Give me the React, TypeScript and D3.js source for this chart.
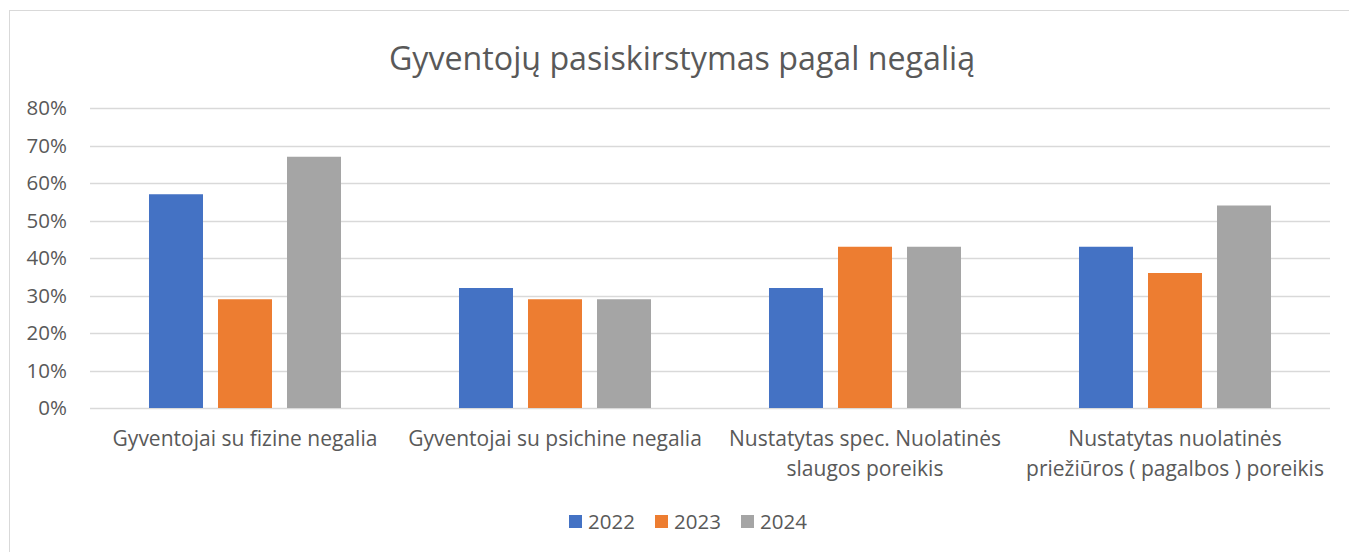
import React, { useEffect, useRef } from 'react';
import * as d3 from 'd3';

const categories = [
  ['Gyventojai su fizine negalia'],
  ['Gyventojai su psichine negalia'],
  ['Nustatytas spec. Nuolatinės', 'slaugos poreikis'],
  ['Nustatytas nuolatinės', 'priežiūros ( pagalbos ) poreikis'],
];
const years = ['2022', '2023', '2024'];
const values2022 = [57, 32, 32, 43];
const values2023 = [29, 29, 43, 36];
const values2024 = [67, 29, 43, 54];
const yTicks = [0, 10, 20, 30, 40, 50, 60, 70, 80];
const colors = ['#4472c4', '#ed7d31', '#a5a5a5'];

const W = 1349;
const H = 552;
const FONT = '"Open Sans", sans-serif';

const App = () => {
  const svgRef = useRef<SVGSVGElement>(null);

  useEffect(() => {
    if (!svgRef.current) return;
    const svg = d3.select(svgRef.current);
    svg.selectAll('*').remove();

    const series = [values2022, values2023, values2024];
    const left = 90, right = 1330, top = 108, bottom = 408;

    svg.append('rect')
      .attr('x', 9.5).attr('y', 10.5)
      .attr('width', W).attr('height', H)
      .attr('fill', '#fff').attr('stroke', '#d9d9d9');

    svg.append('text')
      .attr('x', 682).attr('y', 70)
      .attr('text-anchor', 'middle')
      .attr('font-family', FONT).attr('font-size', 32.2)
      .attr('fill', '#595959')
      .text('Gyventojų pasiskirstymas pagal negalią');

    const y = d3.scaleLinear().domain([0, 80]).range([bottom, top]);
    const x0 = d3.scaleBand<number>().domain(d3.range(categories.length)).range([left, right]);
    const x1 = d3.scaleBand<number>().domain(d3.range(years.length))
      .range([0, x0.bandwidth()]).paddingInner(15 / 69).paddingOuter(0.855);

    // gridlines
    svg.append('g').selectAll('line')
      .data(yTicks)
      .enter().append('line')
      .attr('x1', left).attr('x2', right)
      .attr('y1', d => Math.round(y(d)) + 0.5).attr('y2', d => Math.round(y(d)) + 0.5)
      .attr('stroke', '#d9d9d9').attr('stroke-width', 1.5);

    svg.append('g').selectAll('text')
      .data(yTicks)
      .enter().append('text')
      .attr('x', 67).attr('y', d => y(d) + 7)
      .attr('text-anchor', 'end')
      .attr('font-family', FONT).attr('font-size', 20.5)
      .attr('fill', '#595959')
      .text(d => `${d}%`);

    // bars
    series.forEach((vals, s) => {
      svg.append('g').selectAll('rect')
        .data(vals)
        .enter().append('rect')
        .attr('x', (_, i) => (x0(i) as number) + (x1(s) as number))
        .attr('width', x1.bandwidth())
        .attr('y', d => y(d))
        .attr('height', d => bottom - y(d))
        .attr('fill', colors[s]);
    });

    // category labels
    const labels = svg.append('g').selectAll('text')
      .data(categories)
      .enter().append('text')
      .attr('x', (_, i) => (x0(i) as number) + x0.bandwidth() / 2)
      .attr('y', 446)
      .attr('text-anchor', 'middle')
      .attr('font-family', FONT).attr('font-size', 21)
      .attr('fill', '#595959');
    labels.selectAll('tspan')
      .data((d, i) => d.map(line => ({ line, i })))
      .enter().append('tspan')
      .attr('x', d => (x0(d.i) as number) + x0.bandwidth() / 2)
      .attr('dy', (_, j) => (j === 0 ? 0 : 30))
      .text(d => d.line);

    // legend
    const legendX = [569, 655, 741];
    const legend = svg.append('g').selectAll('g')
      .data(years)
      .enter().append('g')
      .attr('transform', (_, i) => `translate(${legendX[i]},515)`);
    legend.append('rect')
      .attr('width', 13).attr('height', 13)
      .attr('fill', (_, i) => colors[i]);
    legend.append('text')
      .attr('x', 19).attr('y', 14)
      .attr('font-family', FONT).attr('font-size', 20.5)
      .attr('fill', '#595959')
      .text(d => d);
  }, []);

  return (
    <svg ref={svgRef} width={W} height={H} viewBox={`0 0 ${W} ${H}`}
      style={{ position: 'absolute', left: 0, top: 0, background: '#fff' }} />
  );
};

export default App;
